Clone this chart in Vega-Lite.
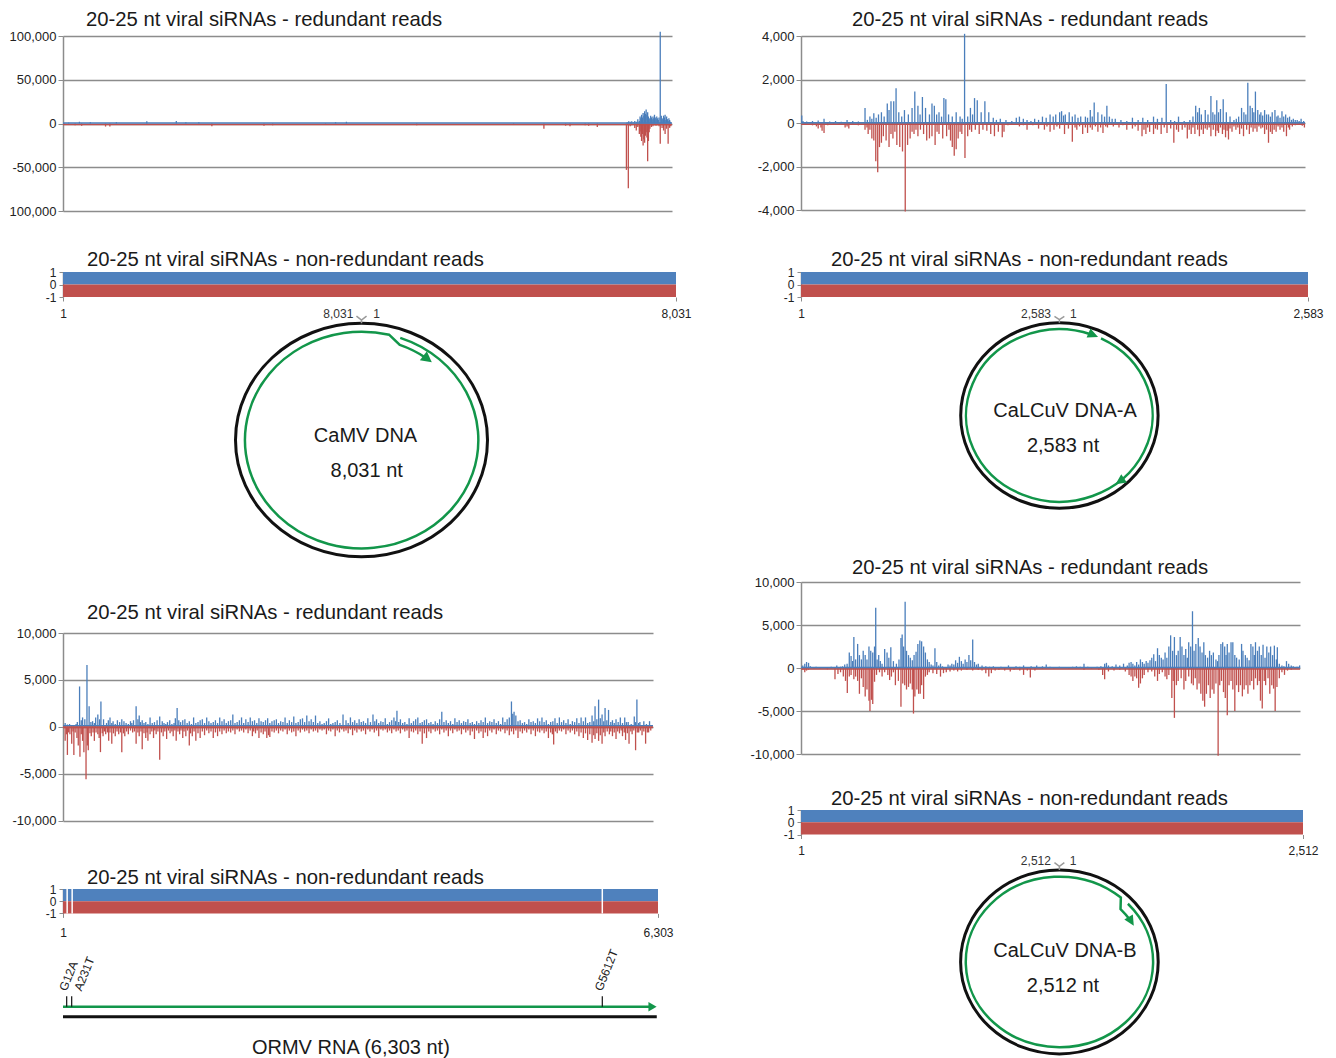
{
"$schema": "https://vega.github.io/schema/vega-lite/v6.json",
"background": "white",
"padding": {"left": 9, "top": 9, "right": 0, "bottom": 0},
"config": {"view": {"stroke": null}, "font": "Liberation Sans",
  "title": {"fontSize": 20.3, "fontWeight": "normal", "anchor": "start", "frame": "group", "color": "#1a1a1a", "baseline": "alphabetic", "font": "Liberation Sans"},
  "axis": {"labelFont": "Liberation Sans", "labelColor": "#222222", "domainColor": "#8c8c8c", "tickColor": "#8c8c8c", "gridColor": "#8c8c8c", "labelOverlap": false}},
"datasets": {
"aP": [{"p":75,"v":1000},{"p":218,"v":2000},{"p":362,"v":1500},{"p":705,"v":1500},{"p":1106,"v":2500},{"p":1495,"v":3000},{"p":1621,"v":1500},{"p":1792,"v":1500},{"p":3595,"v":1500},{"p":3738,"v":2000},{"p":7440,"v":1500},{"p":7460,"v":2500},{"p":7480,"v":2000},{"p":7500,"v":2500},{"p":7520,"v":1500},{"p":7540,"v":3000},{"p":7560,"v":2000},{"p":7580,"v":5000},{"p":7600,"v":3000},{"p":7610,"v":8000},{"p":7620,"v":6000},{"p":7630,"v":10000},{"p":7640,"v":7000},{"p":7650,"v":12000},{"p":7660,"v":9000},{"p":7670,"v":14000},{"p":7680,"v":11000},{"p":7690,"v":16000},{"p":7700,"v":10000},{"p":7710,"v":13000},{"p":7720,"v":8000},{"p":7730,"v":6000},{"p":7740,"v":5000},{"p":7750,"v":9000},{"p":7760,"v":7000},{"p":7770,"v":5000},{"p":7780,"v":8000},{"p":7790,"v":6000},{"p":7800,"v":10000},{"p":7810,"v":7000},{"p":7820,"v":5000},{"p":7830,"v":8000},{"p":7840,"v":6000},{"p":7850,"v":4000},{"p":7860,"v":7000},{"p":7876,"v":105000},{"p":7890,"v":9000},{"p":7900,"v":6000},{"p":7910,"v":5000},{"p":7920,"v":9000},{"p":7930,"v":7000},{"p":7940,"v":10000},{"p":7950,"v":4000},{"p":7960,"v":8000},{"p":7970,"v":5000},{"p":7980,"v":3000},{"p":7990,"v":6000},{"p":8000,"v":4000},{"p":8010,"v":2000}],
"aM": [{"p":18,"v":-1500},{"p":161,"v":-2000},{"p":247,"v":-2500},{"p":562,"v":-3500},{"p":619,"v":-3500},{"p":1964,"v":-3000},{"p":2651,"v":-2500},{"p":2765,"v":-2000},{"p":3463,"v":-1500},{"p":4665,"v":-2000},{"p":5942,"v":-1500},{"p":6342,"v":-6000},{"p":6628,"v":-2500},{"p":6686,"v":-3000},{"p":6886,"v":-2000},{"p":6932,"v":-2500},{"p":7046,"v":-4000},{"p":7430,"v":-53000},{"p":7455,"v":-74000},{"p":7480,"v":-3000},{"p":7500,"v":-2000},{"p":7540,"v":-5000},{"p":7560,"v":-8000},{"p":7580,"v":-4000},{"p":7600,"v":-12000},{"p":7610,"v":-9000},{"p":7620,"v":-15000},{"p":7630,"v":-20000},{"p":7640,"v":-12000},{"p":7650,"v":-25000},{"p":7660,"v":-18000},{"p":7670,"v":-22000},{"p":7680,"v":-14000},{"p":7690,"v":-10000},{"p":7700,"v":-16000},{"p":7710,"v":-43000},{"p":7720,"v":-20000},{"p":7730,"v":-10000},{"p":7740,"v":-6000},{"p":7760,"v":-4000},{"p":7780,"v":-3000},{"p":7800,"v":-2000},{"p":7820,"v":-2500},{"p":7840,"v":-2000},{"p":7860,"v":-3000},{"p":7876,"v":-23000},{"p":7900,"v":-5000},{"p":7920,"v":-8000},{"p":7940,"v":-12000},{"p":7960,"v":-6000},{"p":7980,"v":-23000},{"p":8000,"v":-5000},{"p":8015,"v":-3000}],
"bP": [{"p":5,"v":350},{"p":11,"v":100},{"p":30,"v":80},{"p":60,"v":100},{"p":89,"v":120},{"p":119,"v":200},{"p":148,"v":80},{"p":178,"v":100},{"p":207,"v":60},{"p":237,"v":150},{"p":266,"v":100},{"p":295,"v":80},{"p":329,"v":700},{"p":341,"v":150},{"p":354,"v":300},{"p":364,"v":200},{"p":374,"v":450},{"p":386,"v":250},{"p":398,"v":400},{"p":413,"v":500},{"p":427,"v":300},{"p":443,"v":900},{"p":452,"v":600},{"p":462,"v":1000},{"p":476,"v":1000},{"p":488,"v":1600},{"p":502,"v":500},{"p":517,"v":300},{"p":531,"v":600},{"p":551,"v":400},{"p":570,"v":700},{"p":584,"v":1450},{"p":600,"v":800},{"p":611,"v":400},{"p":623,"v":1200},{"p":639,"v":700},{"p":659,"v":400},{"p":672,"v":900},{"p":684,"v":800},{"p":696,"v":400},{"p":708,"v":500},{"p":721,"v":300},{"p":733,"v":1150},{"p":743,"v":1100},{"p":757,"v":400},{"p":776,"v":300},{"p":796,"v":500},{"p":816,"v":300},{"p":827,"v":200},{"p":839,"v":4100},{"p":855,"v":300},{"p":869,"v":700},{"p":880,"v":400},{"p":890,"v":1150},{"p":904,"v":1050},{"p":924,"v":500},{"p":943,"v":1000},{"p":963,"v":500},{"p":986,"v":250},{"p":1002,"v":150},{"p":1022,"v":200},{"p":1051,"v":150},{"p":1081,"v":100},{"p":1104,"v":250},{"p":1120,"v":300},{"p":1140,"v":200},{"p":1159,"v":150},{"p":1179,"v":100},{"p":1198,"v":200},{"p":1218,"v":150},{"p":1238,"v":300},{"p":1257,"v":250},{"p":1277,"v":400},{"p":1293,"v":300},{"p":1306,"v":400},{"p":1326,"v":500},{"p":1336,"v":550},{"p":1346,"v":350},{"p":1355,"v":400},{"p":1375,"v":500},{"p":1391,"v":300},{"p":1405,"v":400},{"p":1420,"v":250},{"p":1434,"v":300},{"p":1458,"v":300},{"p":1469,"v":250},{"p":1483,"v":600},{"p":1493,"v":300},{"p":1503,"v":950},{"p":1522,"v":500},{"p":1542,"v":400},{"p":1556,"v":300},{"p":1568,"v":800},{"p":1581,"v":300},{"p":1595,"v":200},{"p":1611,"v":200},{"p":1640,"v":150},{"p":1670,"v":100},{"p":1699,"v":250},{"p":1728,"v":150},{"p":1752,"v":250},{"p":1777,"v":150},{"p":1807,"v":300},{"p":1827,"v":200},{"p":1850,"v":250},{"p":1872,"v":1800},{"p":1895,"v":150},{"p":1915,"v":100},{"p":1935,"v":300},{"p":1964,"v":100},{"p":1993,"v":150},{"p":2009,"v":300},{"p":2023,"v":800},{"p":2033,"v":500},{"p":2042,"v":700},{"p":2052,"v":400},{"p":2072,"v":600},{"p":2086,"v":400},{"p":2101,"v":1250},{"p":2111,"v":500},{"p":2121,"v":400},{"p":2131,"v":1050},{"p":2140,"v":500},{"p":2150,"v":650},{"p":2164,"v":1100},{"p":2180,"v":500},{"p":2199,"v":300},{"p":2219,"v":150},{"p":2231,"v":200},{"p":2243,"v":300},{"p":2258,"v":700},{"p":2270,"v":500},{"p":2280,"v":400},{"p":2290,"v":1850},{"p":2302,"v":800},{"p":2313,"v":700},{"p":2321,"v":500},{"p":2329,"v":1450},{"p":2341,"v":600},{"p":2351,"v":400},{"p":2357,"v":500},{"p":2366,"v":350},{"p":2376,"v":600},{"p":2386,"v":400},{"p":2396,"v":400},{"p":2406,"v":300},{"p":2415,"v":500},{"p":2429,"v":600},{"p":2439,"v":300},{"p":2445,"v":350},{"p":2455,"v":250},{"p":2465,"v":550},{"p":2474,"v":300},{"p":2484,"v":400},{"p":2494,"v":250},{"p":2504,"v":300},{"p":2514,"v":150},{"p":2523,"v":200},{"p":2533,"v":150},{"p":2543,"v":150},{"p":2553,"v":100},{"p":2563,"v":200},{"p":2576,"v":100}],
"bM": [{"p":21,"v":-50},{"p":60,"v":-100},{"p":80,"v":-150},{"p":89,"v":-250},{"p":103,"v":-200},{"p":109,"v":-350},{"p":119,"v":-450},{"p":138,"v":-100},{"p":168,"v":-80},{"p":197,"v":-60},{"p":227,"v":-200},{"p":237,"v":-150},{"p":246,"v":-250},{"p":266,"v":-80},{"p":295,"v":-100},{"p":329,"v":-300},{"p":339,"v":-200},{"p":345,"v":-500},{"p":354,"v":-300},{"p":364,"v":-700},{"p":374,"v":-800},{"p":384,"v":-1750},{"p":394,"v":-2250},{"p":403,"v":-1100},{"p":413,"v":-900},{"p":423,"v":-600},{"p":437,"v":-800},{"p":452,"v":-1100},{"p":462,"v":-500},{"p":472,"v":-700},{"p":482,"v":-400},{"p":492,"v":-1000},{"p":507,"v":-1100},{"p":521,"v":-1300},{"p":535,"v":-4050},{"p":547,"v":-1000},{"p":560,"v":-700},{"p":570,"v":-400},{"p":580,"v":-500},{"p":590,"v":-300},{"p":600,"v":-600},{"p":613,"v":-300},{"p":629,"v":-500},{"p":645,"v":-800},{"p":659,"v":-700},{"p":672,"v":-600},{"p":688,"v":-1000},{"p":698,"v":-400},{"p":708,"v":-500},{"p":727,"v":-700},{"p":747,"v":-600},{"p":759,"v":-300},{"p":767,"v":-800},{"p":776,"v":-1100},{"p":786,"v":-1500},{"p":796,"v":-1200},{"p":806,"v":-700},{"p":816,"v":-400},{"p":825,"v":-500},{"p":841,"v":-1600},{"p":855,"v":-600},{"p":865,"v":-300},{"p":875,"v":-400},{"p":894,"v":-300},{"p":914,"v":-500},{"p":933,"v":-300},{"p":953,"v":-350},{"p":973,"v":-500},{"p":992,"v":-600},{"p":1012,"v":-400},{"p":1032,"v":-650},{"p":1041,"v":-400},{"p":1061,"v":-100},{"p":1081,"v":-80},{"p":1120,"v":-150},{"p":1140,"v":-100},{"p":1159,"v":-300},{"p":1189,"v":-100},{"p":1218,"v":-250},{"p":1248,"v":-300},{"p":1261,"v":-150},{"p":1277,"v":-400},{"p":1297,"v":-300},{"p":1312,"v":-150},{"p":1326,"v":-250},{"p":1351,"v":-500},{"p":1371,"v":-250},{"p":1391,"v":-850},{"p":1405,"v":-200},{"p":1414,"v":-300},{"p":1428,"v":-150},{"p":1444,"v":-500},{"p":1458,"v":-200},{"p":1469,"v":-450},{"p":1483,"v":-200},{"p":1493,"v":-300},{"p":1509,"v":-150},{"p":1522,"v":-400},{"p":1536,"v":-200},{"p":1548,"v":-450},{"p":1562,"v":-150},{"p":1571,"v":-200},{"p":1601,"v":-150},{"p":1630,"v":-200},{"p":1650,"v":-100},{"p":1670,"v":-300},{"p":1699,"v":-250},{"p":1713,"v":-150},{"p":1728,"v":-350},{"p":1748,"v":-600},{"p":1758,"v":-300},{"p":1768,"v":-500},{"p":1777,"v":-200},{"p":1787,"v":-400},{"p":1807,"v":-500},{"p":1817,"v":-250},{"p":1827,"v":-300},{"p":1846,"v":-500},{"p":1862,"v":-200},{"p":1876,"v":-450},{"p":1895,"v":-250},{"p":1911,"v":-900},{"p":1925,"v":-300},{"p":1935,"v":-400},{"p":1954,"v":-300},{"p":1968,"v":-200},{"p":1980,"v":-700},{"p":1990,"v":-300},{"p":2000,"v":-500},{"p":2009,"v":-200},{"p":2019,"v":-500},{"p":2033,"v":-300},{"p":2042,"v":-600},{"p":2052,"v":-300},{"p":2062,"v":-500},{"p":2072,"v":-250},{"p":2082,"v":-300},{"p":2092,"v":-200},{"p":2101,"v":-600},{"p":2113,"v":-300},{"p":2125,"v":-600},{"p":2133,"v":-350},{"p":2140,"v":-450},{"p":2150,"v":-200},{"p":2160,"v":-500},{"p":2168,"v":-300},{"p":2176,"v":-650},{"p":2184,"v":-350},{"p":2191,"v":-750},{"p":2199,"v":-250},{"p":2209,"v":-400},{"p":2219,"v":-150},{"p":2229,"v":-300},{"p":2239,"v":-200},{"p":2248,"v":-500},{"p":2258,"v":-250},{"p":2268,"v":-600},{"p":2284,"v":-300},{"p":2298,"v":-500},{"p":2307,"v":-200},{"p":2317,"v":-400},{"p":2327,"v":-250},{"p":2337,"v":-400},{"p":2347,"v":-150},{"p":2357,"v":-250},{"p":2366,"v":-200},{"p":2376,"v":-500},{"p":2386,"v":-300},{"p":2396,"v":-900},{"p":2406,"v":-400},{"p":2415,"v":-500},{"p":2425,"v":-300},{"p":2435,"v":-400},{"p":2445,"v":-150},{"p":2455,"v":-300},{"p":2465,"v":-200},{"p":2474,"v":-400},{"p":2488,"v":-600},{"p":2498,"v":-200},{"p":2504,"v":-300},{"p":2518,"v":-150},{"p":2533,"v":-100},{"p":2553,"v":-80},{"p":2569,"v":-120},{"p":2580,"v":-200}],
"cP": [{"p":24,"v":400},{"p":48,"v":250},{"p":71,"v":300},{"p":94,"v":200},{"p":117,"v":200},{"p":141,"v":300},{"p":154,"v":500},{"p":178,"v":4300},{"p":196,"v":700},{"p":210,"v":1000},{"p":234,"v":800},{"p":257,"v":6600},{"p":280,"v":2200},{"p":299,"v":500},{"p":317,"v":600},{"p":336,"v":400},{"p":350,"v":1000},{"p":373,"v":1300},{"p":392,"v":800},{"p":406,"v":2700},{"p":434,"v":800},{"p":466,"v":400},{"p":485,"v":700},{"p":503,"v":1000},{"p":522,"v":400},{"p":536,"v":600},{"p":559,"v":300},{"p":582,"v":700},{"p":606,"v":500},{"p":629,"v":800},{"p":652,"v":600},{"p":675,"v":400},{"p":699,"v":300},{"p":722,"v":600},{"p":736,"v":400},{"p":754,"v":700},{"p":782,"v":2200},{"p":801,"v":800},{"p":815,"v":1200},{"p":829,"v":500},{"p":847,"v":700},{"p":866,"v":400},{"p":885,"v":500},{"p":908,"v":300},{"p":931,"v":1000},{"p":954,"v":400},{"p":978,"v":500},{"p":1006,"v":700},{"p":1034,"v":1100},{"p":1061,"v":600},{"p":1080,"v":400},{"p":1099,"v":300},{"p":1117,"v":500},{"p":1141,"v":700},{"p":1164,"v":300},{"p":1187,"v":400},{"p":1201,"v":900},{"p":1220,"v":2000},{"p":1238,"v":700},{"p":1257,"v":500},{"p":1280,"v":700},{"p":1303,"v":800},{"p":1327,"v":400},{"p":1350,"v":600},{"p":1373,"v":300},{"p":1396,"v":1000},{"p":1420,"v":400},{"p":1443,"v":500},{"p":1466,"v":700},{"p":1489,"v":800},{"p":1513,"v":400},{"p":1536,"v":1000},{"p":1559,"v":600},{"p":1582,"v":400},{"p":1606,"v":500},{"p":1629,"v":700},{"p":1652,"v":400},{"p":1675,"v":1000},{"p":1699,"v":600},{"p":1722,"v":800},{"p":1745,"v":400},{"p":1768,"v":600},{"p":1792,"v":700},{"p":1815,"v":1300},{"p":1838,"v":400},{"p":1861,"v":500},{"p":1885,"v":700},{"p":1908,"v":1000},{"p":1931,"v":400},{"p":1954,"v":800},{"p":1978,"v":500},{"p":2001,"v":1000},{"p":2024,"v":600},{"p":2047,"v":700},{"p":2071,"v":400},{"p":2094,"v":900},{"p":2117,"v":600},{"p":2140,"v":500},{"p":2164,"v":700},{"p":2187,"v":900},{"p":2210,"v":400},{"p":2233,"v":600},{"p":2257,"v":700},{"p":2280,"v":800},{"p":2303,"v":400},{"p":2326,"v":600},{"p":2350,"v":500},{"p":2373,"v":1000},{"p":2396,"v":400},{"p":2419,"v":700},{"p":2443,"v":500},{"p":2466,"v":1100},{"p":2489,"v":400},{"p":2513,"v":500},{"p":2536,"v":800},{"p":2559,"v":900},{"p":2582,"v":500},{"p":2605,"v":1200},{"p":2629,"v":600},{"p":2652,"v":800},{"p":2675,"v":500},{"p":2698,"v":1200},{"p":2722,"v":400},{"p":2745,"v":600},{"p":2768,"v":300},{"p":2791,"v":400},{"p":2815,"v":600},{"p":2838,"v":900},{"p":2861,"v":300},{"p":2884,"v":400},{"p":2908,"v":500},{"p":2931,"v":700},{"p":2959,"v":400},{"p":2992,"v":1300},{"p":3024,"v":700},{"p":3047,"v":400},{"p":3071,"v":1000},{"p":3094,"v":500},{"p":3117,"v":700},{"p":3140,"v":400},{"p":3164,"v":800},{"p":3187,"v":500},{"p":3210,"v":600},{"p":3233,"v":400},{"p":3257,"v":900},{"p":3285,"v":500},{"p":3312,"v":1300},{"p":3331,"v":600},{"p":3350,"v":800},{"p":3373,"v":400},{"p":3396,"v":600},{"p":3419,"v":500},{"p":3443,"v":900},{"p":3466,"v":300},{"p":3489,"v":500},{"p":3512,"v":700},{"p":3536,"v":1000},{"p":3554,"v":600},{"p":3568,"v":1700},{"p":3587,"v":500},{"p":3605,"v":800},{"p":3629,"v":400},{"p":3652,"v":500},{"p":3675,"v":300},{"p":3698,"v":900},{"p":3722,"v":400},{"p":3745,"v":600},{"p":3768,"v":800},{"p":3791,"v":1000},{"p":3815,"v":400},{"p":3838,"v":500},{"p":3861,"v":700},{"p":3884,"v":800},{"p":3908,"v":400},{"p":3931,"v":500},{"p":3954,"v":300},{"p":3977,"v":600},{"p":4001,"v":400},{"p":4024,"v":800},{"p":4047,"v":1600},{"p":4070,"v":500},{"p":4094,"v":700},{"p":4117,"v":400},{"p":4140,"v":600},{"p":4164,"v":300},{"p":4187,"v":900},{"p":4210,"v":500},{"p":4233,"v":700},{"p":4257,"v":400},{"p":4280,"v":600},{"p":4303,"v":500},{"p":4326,"v":800},{"p":4350,"v":400},{"p":4373,"v":500},{"p":4396,"v":300},{"p":4419,"v":600},{"p":4443,"v":400},{"p":4466,"v":700},{"p":4489,"v":500},{"p":4512,"v":1000},{"p":4536,"v":400},{"p":4559,"v":600},{"p":4582,"v":500},{"p":4605,"v":800},{"p":4629,"v":400},{"p":4652,"v":600},{"p":4675,"v":300},{"p":4698,"v":1000},{"p":4722,"v":500},{"p":4745,"v":800},{"p":4768,"v":1000},{"p":4791,"v":2700},{"p":4805,"v":1400},{"p":4819,"v":1600},{"p":4838,"v":1200},{"p":4861,"v":600},{"p":4884,"v":700},{"p":4908,"v":400},{"p":4931,"v":500},{"p":4954,"v":300},{"p":4977,"v":800},{"p":5000,"v":500},{"p":5024,"v":600},{"p":5047,"v":400},{"p":5070,"v":900},{"p":5093,"v":600},{"p":5117,"v":1000},{"p":5140,"v":500},{"p":5163,"v":700},{"p":5186,"v":300},{"p":5210,"v":500},{"p":5233,"v":600},{"p":5256,"v":900},{"p":5280,"v":400},{"p":5303,"v":1000},{"p":5326,"v":500},{"p":5349,"v":700},{"p":5373,"v":400},{"p":5396,"v":800},{"p":5419,"v":300},{"p":5442,"v":600},{"p":5466,"v":500},{"p":5489,"v":900},{"p":5512,"v":400},{"p":5535,"v":1000},{"p":5559,"v":600},{"p":5582,"v":1000},{"p":5605,"v":400},{"p":5628,"v":500},{"p":5652,"v":1200},{"p":5670,"v":600},{"p":5684,"v":2200},{"p":5703,"v":800},{"p":5722,"v":2900},{"p":5740,"v":900},{"p":5759,"v":1300},{"p":5777,"v":600},{"p":5791,"v":2000},{"p":5810,"v":700},{"p":5828,"v":1800},{"p":5852,"v":500},{"p":5870,"v":700},{"p":5889,"v":400},{"p":5908,"v":800},{"p":5931,"v":500},{"p":5954,"v":1000},{"p":5977,"v":400},{"p":6001,"v":1000},{"p":6019,"v":500},{"p":6038,"v":500},{"p":6057,"v":200},{"p":6070,"v":300},{"p":6084,"v":200},{"p":6103,"v":1100},{"p":6117,"v":500},{"p":6131,"v":2900},{"p":6150,"v":400},{"p":6163,"v":500},{"p":6186,"v":200},{"p":6205,"v":600},{"p":6233,"v":300},{"p":6251,"v":200},{"p":6266,"v":600},{"p":6289,"v":200}],
"cM": [{"p":24,"v":-1500},{"p":38,"v":-800},{"p":48,"v":-3000},{"p":61,"v":-600},{"p":75,"v":-800},{"p":94,"v":-1800},{"p":108,"v":-500},{"p":117,"v":-3000},{"p":131,"v":-600},{"p":150,"v":-1200},{"p":164,"v":-2000},{"p":182,"v":-3200},{"p":196,"v":-800},{"p":210,"v":-1500},{"p":224,"v":-2700},{"p":247,"v":-5600},{"p":261,"v":-2000},{"p":271,"v":-2500},{"p":289,"v":-700},{"p":303,"v":-1000},{"p":322,"v":-600},{"p":336,"v":-1500},{"p":354,"v":-600},{"p":373,"v":-800},{"p":387,"v":-1200},{"p":401,"v":-2700},{"p":420,"v":-700},{"p":429,"v":-1000},{"p":443,"v":-500},{"p":457,"v":-800},{"p":475,"v":-600},{"p":489,"v":-1500},{"p":503,"v":-600},{"p":522,"v":-1800},{"p":540,"v":-700},{"p":559,"v":-1000},{"p":578,"v":-500},{"p":596,"v":-800},{"p":615,"v":-600},{"p":629,"v":-2700},{"p":647,"v":-700},{"p":661,"v":-1000},{"p":680,"v":-500},{"p":699,"v":-800},{"p":722,"v":-400},{"p":745,"v":-600},{"p":764,"v":-500},{"p":782,"v":-1800},{"p":801,"v":-600},{"p":815,"v":-1000},{"p":834,"v":-500},{"p":847,"v":-2400},{"p":866,"v":-700},{"p":885,"v":-1200},{"p":899,"v":-600},{"p":908,"v":-1500},{"p":931,"v":-800},{"p":950,"v":-500},{"p":968,"v":-1200},{"p":982,"v":-400},{"p":996,"v":-800},{"p":1015,"v":-500},{"p":1034,"v":-3500},{"p":1052,"v":-600},{"p":1071,"v":-1000},{"p":1089,"v":-500},{"p":1108,"v":-1300},{"p":1127,"v":-400},{"p":1145,"v":-700},{"p":1164,"v":-500},{"p":1178,"v":-1000},{"p":1196,"v":-400},{"p":1210,"v":-1500},{"p":1229,"v":-500},{"p":1247,"v":-800},{"p":1261,"v":-400},{"p":1280,"v":-1200},{"p":1294,"v":-500},{"p":1313,"v":-1000},{"p":1331,"v":-400},{"p":1350,"v":-2000},{"p":1364,"v":-700},{"p":1382,"v":-1000},{"p":1401,"v":-500},{"p":1420,"v":-1500},{"p":1443,"v":-700},{"p":1466,"v":-1200},{"p":1489,"v":-500},{"p":1513,"v":-900},{"p":1536,"v":-400},{"p":1559,"v":-700},{"p":1582,"v":-500},{"p":1606,"v":-1200},{"p":1629,"v":-600},{"p":1652,"v":-1000},{"p":1675,"v":-500},{"p":1699,"v":-800},{"p":1722,"v":-400},{"p":1745,"v":-700},{"p":1768,"v":-500},{"p":1792,"v":-600},{"p":1815,"v":-400},{"p":1838,"v":-800},{"p":1861,"v":-300},{"p":1885,"v":-500},{"p":1908,"v":-400},{"p":1931,"v":-600},{"p":1954,"v":-300},{"p":1978,"v":-700},{"p":2001,"v":-400},{"p":2024,"v":-1000},{"p":2038,"v":-500},{"p":2057,"v":-700},{"p":2075,"v":-400},{"p":2094,"v":-1200},{"p":2117,"v":-600},{"p":2140,"v":-800},{"p":2159,"v":-500},{"p":2178,"v":-1200},{"p":2196,"v":-900},{"p":2210,"v":-1100},{"p":2233,"v":-500},{"p":2257,"v":-600},{"p":2280,"v":-400},{"p":2303,"v":-700},{"p":2326,"v":-400},{"p":2350,"v":-500},{"p":2373,"v":-300},{"p":2396,"v":-800},{"p":2419,"v":-400},{"p":2443,"v":-600},{"p":2466,"v":-500},{"p":2489,"v":-1000},{"p":2513,"v":-400},{"p":2536,"v":-600},{"p":2559,"v":-300},{"p":2582,"v":-500},{"p":2605,"v":-400},{"p":2629,"v":-700},{"p":2652,"v":-300},{"p":2675,"v":-500},{"p":2698,"v":-400},{"p":2722,"v":-600},{"p":2745,"v":-300},{"p":2768,"v":-400},{"p":2791,"v":-300},{"p":2815,"v":-800},{"p":2838,"v":-400},{"p":2861,"v":-500},{"p":2884,"v":-300},{"p":2908,"v":-1000},{"p":2931,"v":-400},{"p":2954,"v":-600},{"p":2978,"v":-300},{"p":3001,"v":-500},{"p":3024,"v":-400},{"p":3047,"v":-700},{"p":3071,"v":-300},{"p":3094,"v":-900},{"p":3117,"v":-400},{"p":3140,"v":-600},{"p":3164,"v":-300},{"p":3187,"v":-500},{"p":3210,"v":-400},{"p":3233,"v":-800},{"p":3257,"v":-300},{"p":3280,"v":-500},{"p":3303,"v":-300},{"p":3326,"v":-600},{"p":3350,"v":-400},{"p":3373,"v":-1000},{"p":3396,"v":-300},{"p":3419,"v":-400},{"p":3443,"v":-300},{"p":3466,"v":-600},{"p":3489,"v":-400},{"p":3512,"v":-700},{"p":3536,"v":-300},{"p":3559,"v":-500},{"p":3582,"v":-400},{"p":3605,"v":-700},{"p":3629,"v":-300},{"p":3652,"v":-500},{"p":3675,"v":-400},{"p":3698,"v":-1200},{"p":3722,"v":-500},{"p":3745,"v":-600},{"p":3768,"v":-400},{"p":3791,"v":-800},{"p":3815,"v":-500},{"p":3838,"v":-1800},{"p":3861,"v":-700},{"p":3884,"v":-1200},{"p":3908,"v":-500},{"p":3931,"v":-700},{"p":3954,"v":-300},{"p":3977,"v":-500},{"p":4001,"v":-400},{"p":4024,"v":-800},{"p":4047,"v":-300},{"p":4070,"v":-600},{"p":4094,"v":-400},{"p":4117,"v":-1000},{"p":4140,"v":-400},{"p":4164,"v":-700},{"p":4187,"v":-300},{"p":4210,"v":-500},{"p":4233,"v":-400},{"p":4257,"v":-800},{"p":4280,"v":-300},{"p":4303,"v":-600},{"p":4326,"v":-400},{"p":4350,"v":-900},{"p":4373,"v":-500},{"p":4396,"v":-1300},{"p":4419,"v":-400},{"p":4443,"v":-700},{"p":4466,"v":-500},{"p":4489,"v":-1200},{"p":4512,"v":-600},{"p":4536,"v":-1000},{"p":4559,"v":-400},{"p":4582,"v":-600},{"p":4605,"v":-300},{"p":4629,"v":-800},{"p":4652,"v":-400},{"p":4675,"v":-500},{"p":4698,"v":-300},{"p":4722,"v":-700},{"p":4745,"v":-400},{"p":4768,"v":-900},{"p":4791,"v":-500},{"p":4814,"v":-800},{"p":4838,"v":-400},{"p":4861,"v":-1200},{"p":4884,"v":-500},{"p":4908,"v":-700},{"p":4931,"v":-400},{"p":4954,"v":-600},{"p":4977,"v":-300},{"p":5000,"v":-800},{"p":5024,"v":-400},{"p":5047,"v":-1000},{"p":5070,"v":-500},{"p":5093,"v":-600},{"p":5117,"v":-400},{"p":5140,"v":-700},{"p":5163,"v":-500},{"p":5186,"v":-1200},{"p":5210,"v":-600},{"p":5228,"v":-800},{"p":5242,"v":-1900},{"p":5261,"v":-500},{"p":5280,"v":-700},{"p":5303,"v":-400},{"p":5326,"v":-500},{"p":5349,"v":-300},{"p":5373,"v":-800},{"p":5396,"v":-400},{"p":5419,"v":-600},{"p":5442,"v":-400},{"p":5466,"v":-800},{"p":5489,"v":-500},{"p":5512,"v":-1000},{"p":5535,"v":-600},{"p":5559,"v":-1200},{"p":5582,"v":-700},{"p":5605,"v":-1400},{"p":5628,"v":-800},{"p":5652,"v":-1700},{"p":5670,"v":-900},{"p":5684,"v":-1300},{"p":5703,"v":-700},{"p":5722,"v":-1500},{"p":5740,"v":-900},{"p":5759,"v":-1800},{"p":5777,"v":-600},{"p":5791,"v":-1000},{"p":5814,"v":-500},{"p":5837,"v":-800},{"p":5852,"v":-500},{"p":5870,"v":-1000},{"p":5889,"v":-600},{"p":5908,"v":-1300},{"p":5926,"v":-500},{"p":5945,"v":-700},{"p":5963,"v":-400},{"p":5977,"v":-1000},{"p":5996,"v":-600},{"p":6010,"v":-1400},{"p":6029,"v":-700},{"p":6047,"v":-1800},{"p":6066,"v":-500},{"p":6080,"v":-800},{"p":6098,"v":-400},{"p":6117,"v":-2500},{"p":6135,"v":-600},{"p":6150,"v":-600},{"p":6168,"v":-400},{"p":6186,"v":-900},{"p":6205,"v":-500},{"p":6224,"v":-1800},{"p":6242,"v":-600},{"p":6256,"v":-600},{"p":6279,"v":-400}],
"dP": [{"p":10,"v":300},{"p":20,"v":500},{"p":29,"v":700},{"p":39,"v":600},{"p":48,"v":200},{"p":58,"v":100},{"p":77,"v":150},{"p":96,"v":100},{"p":124,"v":100},{"p":153,"v":150},{"p":181,"v":300},{"p":200,"v":150},{"p":210,"v":200},{"p":221,"v":400},{"p":233,"v":500},{"p":244,"v":1800},{"p":253,"v":1400},{"p":261,"v":800},{"p":267,"v":3600},{"p":276,"v":1000},{"p":286,"v":2800},{"p":295,"v":1500},{"p":305,"v":1000},{"p":314,"v":2000},{"p":324,"v":1500},{"p":333,"v":1000},{"p":343,"v":2500},{"p":352,"v":2000},{"p":362,"v":1800},{"p":371,"v":2500},{"p":377,"v":7000},{"p":384,"v":1000},{"p":392,"v":1500},{"p":400,"v":800},{"p":409,"v":500},{"p":422,"v":2200},{"p":434,"v":1800},{"p":443,"v":1200},{"p":453,"v":2400},{"p":466,"v":800},{"p":481,"v":500},{"p":494,"v":1000},{"p":504,"v":3500},{"p":510,"v":3900},{"p":517,"v":2500},{"p":525,"v":7700},{"p":532,"v":2000},{"p":542,"v":1500},{"p":551,"v":1200},{"p":561,"v":900},{"p":570,"v":1500},{"p":580,"v":1900},{"p":589,"v":2800},{"p":599,"v":3200},{"p":608,"v":3100},{"p":618,"v":2500},{"p":627,"v":1800},{"p":637,"v":1000},{"p":646,"v":700},{"p":656,"v":400},{"p":665,"v":300},{"p":675,"v":2300},{"p":684,"v":700},{"p":694,"v":300},{"p":703,"v":500},{"p":713,"v":200},{"p":722,"v":100},{"p":741,"v":400},{"p":751,"v":300},{"p":760,"v":500},{"p":770,"v":400},{"p":779,"v":900},{"p":789,"v":600},{"p":798,"v":1300},{"p":808,"v":800},{"p":817,"v":500},{"p":827,"v":1000},{"p":836,"v":700},{"p":846,"v":1500},{"p":855,"v":900},{"p":865,"v":3300},{"p":874,"v":700},{"p":884,"v":400},{"p":893,"v":500},{"p":912,"v":300},{"p":931,"v":200},{"p":950,"v":150},{"p":969,"v":200},{"p":988,"v":100},{"p":1007,"v":150},{"p":1026,"v":100},{"p":1045,"v":300},{"p":1064,"v":100},{"p":1083,"v":200},{"p":1102,"v":150},{"p":1121,"v":300},{"p":1159,"v":200},{"p":1187,"v":300},{"p":1216,"v":200},{"p":1235,"v":400},{"p":1254,"v":150},{"p":1273,"v":100},{"p":1301,"v":150},{"p":1330,"v":100},{"p":1368,"v":150},{"p":1387,"v":200},{"p":1406,"v":150},{"p":1425,"v":500},{"p":1444,"v":150},{"p":1463,"v":100},{"p":1491,"v":150},{"p":1510,"v":200},{"p":1529,"v":500},{"p":1538,"v":600},{"p":1548,"v":300},{"p":1567,"v":200},{"p":1586,"v":400},{"p":1605,"v":300},{"p":1624,"v":500},{"p":1643,"v":300},{"p":1652,"v":600},{"p":1662,"v":700},{"p":1671,"v":500},{"p":1681,"v":300},{"p":1690,"v":700},{"p":1700,"v":400},{"p":1709,"v":1000},{"p":1719,"v":700},{"p":1728,"v":500},{"p":1738,"v":800},{"p":1747,"v":600},{"p":1757,"v":900},{"p":1766,"v":1200},{"p":1776,"v":1600},{"p":1785,"v":800},{"p":1795,"v":2300},{"p":1804,"v":1500},{"p":1814,"v":1200},{"p":1823,"v":1000},{"p":1833,"v":1800},{"p":1842,"v":1200},{"p":1852,"v":2500},{"p":1861,"v":3800},{"p":1871,"v":2000},{"p":1880,"v":3600},{"p":1890,"v":1500},{"p":1899,"v":2000},{"p":1909,"v":3600},{"p":1918,"v":2500},{"p":1928,"v":1500},{"p":1937,"v":2200},{"p":1945,"v":1200},{"p":1952,"v":3000},{"p":1962,"v":2500},{"p":1971,"v":6600},{"p":1979,"v":2000},{"p":1988,"v":2800},{"p":2000,"v":3500},{"p":2009,"v":2500},{"p":2019,"v":1800},{"p":2028,"v":3000},{"p":2036,"v":1500},{"p":2047,"v":1200},{"p":2057,"v":2000},{"p":2066,"v":1500},{"p":2076,"v":1800},{"p":2089,"v":1000},{"p":2097,"v":800},{"p":2104,"v":1500},{"p":2114,"v":2800},{"p":2123,"v":3000},{"p":2133,"v":2500},{"p":2140,"v":1500},{"p":2146,"v":2800},{"p":2155,"v":1800},{"p":2165,"v":3000},{"p":2174,"v":3000},{"p":2184,"v":1500},{"p":2193,"v":1200},{"p":2206,"v":1000},{"p":2218,"v":2800},{"p":2225,"v":2000},{"p":2237,"v":1500},{"p":2246,"v":1200},{"p":2256,"v":900},{"p":2265,"v":2800},{"p":2275,"v":2500},{"p":2282,"v":1500},{"p":2288,"v":3000},{"p":2298,"v":2000},{"p":2307,"v":2500},{"p":2317,"v":1500},{"p":2326,"v":2700},{"p":2336,"v":1200},{"p":2345,"v":2500},{"p":2355,"v":1800},{"p":2364,"v":2500},{"p":2374,"v":1500},{"p":2383,"v":2600},{"p":2393,"v":1000},{"p":2398,"v":2400},{"p":2408,"v":500},{"p":2421,"v":300},{"p":2431,"v":200},{"p":2444,"v":800},{"p":2455,"v":500},{"p":2468,"v":300},{"p":2478,"v":200},{"p":2497,"v":150},{"p":2510,"v":300}],
"dM": [{"p":10,"v":-200},{"p":20,"v":-500},{"p":29,"v":-300},{"p":39,"v":-200},{"p":67,"v":-100},{"p":96,"v":-100},{"p":134,"v":-150},{"p":172,"v":-1300},{"p":187,"v":-700},{"p":200,"v":-500},{"p":214,"v":-1000},{"p":225,"v":-1500},{"p":234,"v":-2900},{"p":244,"v":-1000},{"p":253,"v":-800},{"p":267,"v":-1300},{"p":276,"v":-1000},{"p":286,"v":-1500},{"p":295,"v":-3000},{"p":305,"v":-1200},{"p":314,"v":-2200},{"p":324,"v":-3300},{"p":333,"v":-2500},{"p":343,"v":-3800},{"p":348,"v":-5000},{"p":356,"v":-3700},{"p":362,"v":-4200},{"p":371,"v":-1600},{"p":381,"v":-800},{"p":396,"v":-500},{"p":409,"v":-1000},{"p":422,"v":-500},{"p":438,"v":-800},{"p":447,"v":-1400},{"p":456,"v":-1000},{"p":466,"v":-500},{"p":476,"v":-2000},{"p":491,"v":-1500},{"p":504,"v":-4500},{"p":513,"v":-1800},{"p":523,"v":-2000},{"p":532,"v":-2500},{"p":542,"v":-2200},{"p":551,"v":-1800},{"p":561,"v":-2500},{"p":567,"v":-5300},{"p":574,"v":-3300},{"p":584,"v":-2500},{"p":593,"v":-3000},{"p":601,"v":-3000},{"p":608,"v":-2000},{"p":618,"v":-3600},{"p":627,"v":-1000},{"p":637,"v":-800},{"p":646,"v":-500},{"p":665,"v":-600},{"p":684,"v":-700},{"p":703,"v":-1000},{"p":718,"v":-600},{"p":732,"v":-500},{"p":751,"v":-400},{"p":770,"v":-300},{"p":789,"v":-400},{"p":808,"v":-300},{"p":836,"v":-200},{"p":865,"v":-300},{"p":893,"v":-200},{"p":912,"v":-300},{"p":931,"v":-600},{"p":946,"v":-1000},{"p":959,"v":-600},{"p":978,"v":-300},{"p":997,"v":-200},{"p":1026,"v":-300},{"p":1054,"v":-400},{"p":1073,"v":-200},{"p":1102,"v":-300},{"p":1121,"v":-800},{"p":1140,"v":-300},{"p":1155,"v":-1100},{"p":1178,"v":-300},{"p":1216,"v":-100},{"p":1273,"v":-100},{"p":1349,"v":-100},{"p":1425,"v":-200},{"p":1463,"v":-100},{"p":1500,"v":-200},{"p":1519,"v":-800},{"p":1529,"v":-1300},{"p":1548,"v":-400},{"p":1576,"v":-300},{"p":1605,"v":-200},{"p":1633,"v":-400},{"p":1652,"v":-800},{"p":1662,"v":-1000},{"p":1671,"v":-1500},{"p":1681,"v":-1000},{"p":1690,"v":-1200},{"p":1700,"v":-2300},{"p":1709,"v":-1800},{"p":1719,"v":-1200},{"p":1728,"v":-800},{"p":1747,"v":-500},{"p":1766,"v":-400},{"p":1781,"v":-1000},{"p":1795,"v":-1500},{"p":1804,"v":-700},{"p":1819,"v":-500},{"p":1833,"v":-1000},{"p":1842,"v":-1300},{"p":1852,"v":-800},{"p":1867,"v":-3500},{"p":1874,"v":-1500},{"p":1880,"v":-5800},{"p":1890,"v":-2000},{"p":1899,"v":-1500},{"p":1914,"v":-1200},{"p":1928,"v":-2500},{"p":1937,"v":-1500},{"p":1952,"v":-1000},{"p":1966,"v":-1800},{"p":1975,"v":-2000},{"p":1985,"v":-1200},{"p":1994,"v":-2500},{"p":2004,"v":-1800},{"p":2013,"v":-3000},{"p":2023,"v":-3800},{"p":2032,"v":-4500},{"p":2041,"v":-3000},{"p":2051,"v":-2000},{"p":2060,"v":-3500},{"p":2070,"v":-2500},{"p":2079,"v":-3000},{"p":2089,"v":-1800},{"p":2100,"v":-10200},{"p":2108,"v":-2000},{"p":2117,"v":-1500},{"p":2127,"v":-2800},{"p":2136,"v":-3500},{"p":2146,"v":-5500},{"p":2155,"v":-2000},{"p":2165,"v":-1500},{"p":2174,"v":-2500},{"p":2184,"v":-5000},{"p":2193,"v":-2000},{"p":2203,"v":-2800},{"p":2212,"v":-2000},{"p":2222,"v":-3300},{"p":2231,"v":-2500},{"p":2241,"v":-2000},{"p":2250,"v":-3000},{"p":2260,"v":-2000},{"p":2269,"v":-1500},{"p":2279,"v":-2500},{"p":2288,"v":-1200},{"p":2298,"v":-2000},{"p":2307,"v":-1500},{"p":2313,"v":-3800},{"p":2322,"v":-4700},{"p":2332,"v":-1500},{"p":2339,"v":-2000},{"p":2351,"v":-1200},{"p":2360,"v":-3000},{"p":2370,"v":-2000},{"p":2379,"v":-2400},{"p":2387,"v":-5000},{"p":2396,"v":-2200},{"p":2408,"v":-1200},{"p":2421,"v":-500},{"p":2434,"v":-800},{"p":2449,"v":-300},{"p":2468,"v":-200},{"p":2487,"v":-100}]
},
"spacing": 738,
"bounds": "flush",
"hconcat": [
{"spacing": 0, "bounds": "flush", "vconcat": [
 {"width": 609, "height": 175,
  "title": {"text": "20-25 nt viral siRNAs - redundant reads", "dx": 23, "offset": 0},
  "layer": [
   {"data": {"name": "aM"}, "mark": {"type": "rule", "color": "#c0504d", "strokeWidth": 1.3},
    "encoding": {"x": {"field": "p", "type": "quantitative", "scale": {"domain": [1, 8031], "nice": false, "zero": false}, "axis": null},
     "y": {"field": "v", "type": "quantitative", "scale": {"domain": [-100000, 100000], "nice": false},
      "axis": {"values": [-100000, -50000, 0, 50000, 100000], "grid": true, "gridWidth": 1.5, "domainWidth": 1.5, "tickSize": 5, "labelFontSize": 13, "labelPadding": 2, "title": null,
       "labelExpr": "datum.value == -100000 ? '100,000' : (datum.value < 0 ? '-' : '') + format(abs(datum.value), ',')"}},
     "y2": {"datum": 0}}},
   {"data": {"name": "aP"}, "mark": {"type": "rule", "color": "#4a7ebb", "strokeWidth": 1.3},
    "encoding": {"x": {"field": "p", "type": "quantitative"}, "y": {"field": "v", "type": "quantitative"}, "y2": {"datum": 0}}},
   {"data": {"values": [{"p": 1, "p2": 8031}]}, "mark": {"type": "rule", "color": "#c0504d", "strokeWidth": 1.5, "yOffset": 1},
    "encoding": {"x": {"field": "p", "type": "quantitative"}, "x2": {"field": "p2"}, "y": {"datum": 0, "type": "quantitative"}}},
   {"data": {"values": [{"p": 1, "p2": 8031}]}, "mark": {"type": "rule", "color": "#4a7ebb", "strokeWidth": 1.5, "yOffset": -0.5},
    "encoding": {"x": {"field": "p", "type": "quantitative"}, "x2": {"field": "p2"}, "y": {"datum": 0, "type": "quantitative"}}}
  ]},
 {"width": 1, "height": 60.3, "data": {"values": []}, "mark": "point"},
 {"width": 613, "height": 25,
  "title": {"text": "20-25 nt viral siRNAs - non-redundant reads", "dx": 24, "offset": -4},
  "data": {"values": [{"s": 1, "e": 8031, "lo": 0, "hi": 1, "strand": "+"}, {"s": 1, "e": 8031, "lo": -1, "hi": 0, "strand": "-"}]},
  "mark": {"type": "rect"},
  "encoding": {
   "x": {"field": "s", "type": "quantitative", "scale": {"domain": [1, 8031], "nice": false, "zero": false},
    "axis": {"values": [1, 8031], "labelExpr": "format(datum.value, ',')", "labelFlush": false, "domain": false, "grid": false, "tickSize": 4, "labelPadding": 7, "labelFontSize": 12, "title": null}},
   "x2": {"field": "e"},
   "y": {"field": "lo", "type": "quantitative", "scale": {"domain": [-1, 1], "nice": false},
    "axis": {"values": [-1, 0, 1], "grid": false, "tickSize": 4, "labelPadding": 3, "labelFontSize": 12, "labelOverlap": false, "domainWidth": 1.5, "title": null, "labelExpr": "(datum.value < 0 ? '-' : '') + format(abs(datum.value), ',')"}},
   "y2": {"field": "hi"},
   "color": {"field": "strand", "type": "nominal", "scale": {"domain": ["+", "-"], "range": ["#4f81bd", "#c0504d"]}, "legend": null}}},
 {"width": 597, "height": 335.7,
  "encoding": {"x": {"field": "x", "type": "quantitative", "scale": {"domain": [-2.369, 2.369], "nice": false, "zero": false}, "axis": null},
   "y": {"field": "y", "type": "quantitative", "scale": {"domain": [-1.529, 1.135], "nice": false, "zero": false}, "axis": null}},
  "layer": [
   {"data": {"values": [{"x": 0, "y": 0}]}, "mark": {"type": "point", "shape": "M -1 0 A 1 0.926 0 1 1 1 0 A 1 0.926 0 1 1 -1 0 Z", "size": 63504, "filled": false, "stroke": "#111111", "strokeWidth": 3, "opacity": 1}},
   {"data": {"values": [{"x": 0, "y": 0}]}, "mark": {"type": "point", "shape": "M 0.3076 -0.8112 A 0.926 0.86 0 1 1 0.2209 -0.8351 L 0.3040 -0.7550 A 0.868 0.806 0 0 1 0.5102 -0.6521", "size": 63504, "filled": false, "stroke": "#12964a", "strokeWidth": 2.5, "opacity": 1}},
   {"data": {"values": [{"x": 0, "y": 0}]}, "mark": {"type": "point", "shape": "M 0.5579 -0.6174 L 0.4632 -0.6341 L 0.5186 -0.7051 Z", "size": 63504, "filled": true, "color": "#12964a", "opacity": 1}},
   {"data": {"values": [{"x": 0, "y": 0}]}, "mark": {"type": "point", "shape": "M -0.04 -0.984 L 0 -0.952 L 0.04 -0.984 M 0 -0.952 L 0 -0.926", "size": 63504, "filled": false, "stroke": "#9a9a9a", "strokeWidth": 1.5, "opacity": 1}},
   {"data": {"values": [{"x": 0.032, "y": 0.032, "t": "CaMV DNA"}, {"x": 0.041, "y": -0.246, "t": "8,031 nt"}]}, "mark": {"type": "text", "fontSize": 20, "color": "#1a1a1a", "baseline": "middle", "align": "center"}, "encoding": {"text": {"field": "t"}}},
   {"data": {"values": [{"x": -0.065, "y": 0.998, "t": "8,031"}]}, "mark": {"type": "text", "fontSize": 12, "color": "#333333", "baseline": "middle", "align": "right"}, "encoding": {"text": {"field": "t"}}},
   {"data": {"values": [{"x": 0.12, "y": 0.998, "t": "1"}]}, "mark": {"type": "text", "fontSize": 12, "color": "#333333", "baseline": "middle", "align": "center"}, "encoding": {"text": {"field": "t"}}}
  ]},
 {"width": 590, "height": 187.6,
  "title": {"text": "20-25 nt viral siRNAs - redundant reads", "dx": 24, "offset": 4},
  "layer": [
   {"data": {"name": "cM"}, "mark": {"type": "rule", "color": "#c0504d", "strokeWidth": 1.3},
    "encoding": {"x": {"field": "p", "type": "quantitative", "scale": {"domain": [1, 6303], "nice": false, "zero": false}, "axis": null},
     "y": {"field": "v", "type": "quantitative", "scale": {"domain": [-10000, 10000], "nice": false},
      "axis": {"values": [-10000, -5000, 0, 5000, 10000], "grid": true, "gridWidth": 1.5, "domainWidth": 1.5, "tickSize": 5, "labelFontSize": 13, "labelPadding": 2, "title": null,
       "labelExpr": "(datum.value < 0 ? '-' : '') + format(abs(datum.value), ',')"}},
     "y2": {"datum": 0}}},
   {"data": {"name": "cP"}, "mark": {"type": "rule", "color": "#4a7ebb", "strokeWidth": 1.3},
    "encoding": {"x": {"field": "p", "type": "quantitative"}, "y": {"field": "v", "type": "quantitative"}, "y2": {"datum": 0}}},
   {"data": {"values": [{"p": 1, "p2": 6303}]}, "mark": {"type": "rule", "color": "#4a7ebb", "strokeWidth": 1.5, "yOffset": -1},
    "encoding": {"x": {"field": "p", "type": "quantitative"}, "x2": {"field": "p2"}, "y": {"datum": 0, "type": "quantitative"}}},
   {"data": {"values": [{"p": 1, "p2": 6303}]}, "mark": {"type": "rule", "color": "#c0504d", "strokeWidth": 2, "yOffset": 0.5},
    "encoding": {"x": {"field": "p", "type": "quantitative"}, "x2": {"field": "p2"}, "y": {"datum": 0, "type": "quantitative"}}}
  ]},
 {"width": 1, "height": 68, "data": {"values": []}, "mark": "point"},
 {"width": 595, "height": 24.4,
  "title": {"text": "20-25 nt viral siRNAs - non-redundant reads", "dx": 24, "offset": -5},
  "layer": [
   {"data": {"values": [{"s": 1, "e": 6303, "lo": 0, "hi": 1, "strand": "+"}, {"s": 1, "e": 6303, "lo": -1, "hi": 0, "strand": "-"}]},
    "mark": {"type": "rect"},
    "encoding": {
     "x": {"field": "s", "type": "quantitative", "scale": {"domain": [1, 6303], "nice": false, "zero": false},
      "axis": {"values": [1, 6303], "labelExpr": "format(datum.value, ',')", "labelFlush": false, "domain": false, "grid": false, "tickSize": 4, "labelPadding": 10, "labelFontSize": 12, "title": null}},
     "x2": {"field": "e"},
     "y": {"field": "lo", "type": "quantitative", "scale": {"domain": [-1, 1], "nice": false},
      "axis": {"values": [-1, 0, 1], "grid": false, "tickSize": 4, "labelPadding": 3, "labelFontSize": 12, "labelOverlap": false, "labelBound": false, "domainWidth": 1.5, "title": null, "labelExpr": "(datum.value < 0 ? '-' : '') + format(abs(datum.value), ',')"}},
     "y2": {"field": "hi"},
     "color": {"field": "strand", "type": "nominal", "scale": {"domain": ["+", "-"], "range": ["#4f81bd", "#c0504d"]}, "legend": null}}},
   {"data": {"values": [{"s": 45}, {"s": 98}, {"s": 5713}]}, "mark": {"type": "rule", "color": "white", "strokeWidth": 1.5},
    "encoding": {"x": {"field": "s", "type": "quantitative"}, "y": {"datum": -1, "type": "quantitative", "axis": {"values": [-1, 0, 1], "labelOverlap": false}}, "y2": {"datum": 1}}}
  ]},
 {"width": 595, "height": 146.3,
  "encoding": {"x": {"field": "p", "type": "quantitative", "scale": {"domain": [1, 6303], "nice": false, "zero": false}, "axis": null},
   "y": {"field": "y", "type": "quantitative", "scale": {"domain": [0, 100], "nice": false, "zero": false}, "axis": null}},
  "layer": [
   {"data": {"values": [{"p": 1, "p2": 6290, "y": 29.8}]}, "mark": {"type": "rule", "color": "#111111", "strokeWidth": 3}, "encoding": {"x2": {"field": "p2"}}},
   {"data": {"values": [{"p": 1, "p2": 6240, "y": 36.6}]}, "mark": {"type": "rule", "color": "#12964a", "strokeWidth": 2.5}, "encoding": {"x2": {"field": "p2"}}},
   {"data": {"values": [{"p": 6245, "y": 36.6}]}, "mark": {"type": "point", "shape": "triangle-right", "size": 90, "filled": true, "color": "#12964a", "opacity": 1}},
   {"data": {"values": [{"p": 40, "y": 43.7, "y2": 36.6}, {"p": 93, "y": 43.7, "y2": 36.6}, {"p": 5713, "y": 43.7, "y2": 36.6}]}, "mark": {"type": "rule", "color": "#111111", "strokeWidth": 1.2}, "encoding": {"y2": {"field": "y2"}}},
   {"data": {"values": [{"p": 40, "y": 47.9, "m": "G12A"}, {"p": 5713, "y": 47.9, "m": "G5612T"}]}, "mark": {"type": "text", "fontSize": 12, "color": "#222222", "angle": -68, "align": "left", "baseline": "middle", "xOffset": -4}, "encoding": {"text": {"field": "m"}}},
   {"data": {"values": [{"p": 93, "y": 47.9, "m": "A231T"}]}, "mark": {"type": "text", "fontSize": 12, "color": "#222222", "angle": -68, "align": "left", "baseline": "middle", "xOffset": 6}, "encoding": {"text": {"field": "m"}}},
   {"data": {"values": [{"p": 3050, "y": 8.2, "t": "ORMV RNA (6,303 nt)"}]}, "mark": {"type": "text", "fontSize": 20, "color": "#1a1a1a", "align": "center", "baseline": "middle"}, "encoding": {"text": {"field": "t"}}}
  ]}
]},
{"spacing": 0, "bounds": "flush", "vconcat": [
 {"width": 504, "height": 174.3,
  "title": {"text": "20-25 nt viral siRNAs - redundant reads", "dx": 51, "offset": 0},
  "layer": [
   {"data": {"name": "bM"}, "mark": {"type": "rule", "color": "#c0504d", "strokeWidth": 1.3},
    "encoding": {"x": {"field": "p", "type": "quantitative", "scale": {"domain": [1, 2583], "nice": false, "zero": false}, "axis": null},
     "y": {"field": "v", "type": "quantitative", "scale": {"domain": [-4000, 4000], "nice": false},
      "axis": {"values": [-4000, -2000, 0, 2000, 4000], "grid": true, "gridWidth": 1.5, "domainWidth": 1.5, "tickSize": 5, "labelFontSize": 13, "labelPadding": 2, "title": null,
       "labelExpr": "(datum.value < 0 ? '-' : '') + format(abs(datum.value), ',')"}},
     "y2": {"datum": 0}}},
   {"data": {"name": "bP"}, "mark": {"type": "rule", "color": "#4a7ebb", "strokeWidth": 1.3},
    "encoding": {"x": {"field": "p", "type": "quantitative"}, "y": {"field": "v", "type": "quantitative"}, "y2": {"datum": 0}}},
   {"data": {"values": [{"p": 1, "p2": 2583}]}, "mark": {"type": "rule", "color": "#c0504d", "strokeWidth": 1.5, "yOffset": 1},
    "encoding": {"x": {"field": "p", "type": "quantitative"}, "x2": {"field": "p2"}, "y": {"datum": 0, "type": "quantitative"}}},
   {"data": {"values": [{"p": 1, "p2": 2583}]}, "mark": {"type": "rule", "color": "#4a7ebb", "strokeWidth": 1.5, "yOffset": -0.5},
    "encoding": {"x": {"field": "p", "type": "quantitative"}, "x2": {"field": "p2"}, "y": {"datum": 0, "type": "quantitative"}}}
  ]},
 {"width": 1, "height": 61, "data": {"values": []}, "mark": "point"},
 {"width": 507, "height": 25,
  "title": {"text": "20-25 nt viral siRNAs - non-redundant reads", "dx": 30, "offset": -4},
  "data": {"values": [{"s": 1, "e": 2583, "lo": 0, "hi": 1, "strand": "+"}, {"s": 1, "e": 2583, "lo": -1, "hi": 0, "strand": "-"}]},
  "mark": {"type": "rect"},
  "encoding": {
   "x": {"field": "s", "type": "quantitative", "scale": {"domain": [1, 2583], "nice": false, "zero": false},
    "axis": {"values": [1, 2583], "labelExpr": "format(datum.value, ',')", "labelFlush": false, "domain": false, "grid": false, "tickSize": 4, "labelPadding": 7, "labelFontSize": 12, "title": null}},
   "x2": {"field": "e"},
   "y": {"field": "lo", "type": "quantitative", "scale": {"domain": [-1, 1], "nice": false},
    "axis": {"values": [-1, 0, 1], "grid": false, "tickSize": 4, "labelPadding": 3, "labelFontSize": 12, "labelOverlap": false, "domainWidth": 1.5, "title": null, "labelExpr": "(datum.value < 0 ? '-' : '') + format(abs(datum.value), ',')"}},
   "y2": {"field": "hi"},
   "color": {"field": "strand", "type": "nominal", "scale": {"domain": ["+", "-"], "range": ["#4f81bd", "#c0504d"]}, "legend": null}}},
 {"width": 516.8, "height": 284.7,
  "encoding": {"x": {"field": "x", "type": "quantitative", "scale": {"domain": [-2.618, 2.618], "nice": false, "zero": false}, "axis": null},
   "y": {"field": "y", "type": "quantitative", "scale": {"domain": [-1.6839, 1.2006], "nice": false, "zero": false}, "axis": null}},
  "layer": [
   {"data": {"values": [{"x": 0, "y": 0}]}, "mark": {"type": "point", "shape": "M -1 0 A 1 0.94 0 1 1 1 0 A 1 0.94 0 1 1 -1 0 Z", "size": 38967, "filled": false, "stroke": "#111111", "strokeWidth": 3, "opacity": 1}},
   {"data": {"values": [{"x": 0, "y": 0}]}, "mark": {"type": "point", "shape": "M 0.4217 -0.7812 A 0.945 0.873 0 1 1 0.3232 -0.8204", "size": 38967, "filled": false, "stroke": "#12964a", "strokeWidth": 2.5, "opacity": 1}},
   {"data": {"values": [{"x": 0, "y": 0}]}, "mark": {"type": "point", "shape": "M 0.3919 -0.7944 L 0.2757 -0.7890 L 0.3145 -0.8812 Z M 0.5687 0.6972 L 0.6263 0.5962 L 0.6835 0.6782 Z", "size": 38967, "filled": true, "color": "#12964a", "opacity": 1}},
   {"data": {"values": [{"x": 0, "y": 0}]}, "mark": {"type": "point", "shape": "M -0.05 -1.005 L 0 -0.972 L 0.05 -1.005 M 0 -0.972 L 0 -0.94", "size": 38967, "filled": false, "stroke": "#9a9a9a", "strokeWidth": 1.5, "opacity": 1}},
   {"data": {"values": [{"x": 0.057, "y": 0.046, "t": "CaLCuV DNA-A"}, {"x": 0.037, "y": -0.309, "t": "2,583 nt"}]}, "mark": {"type": "text", "fontSize": 20, "color": "#1a1a1a", "baseline": "middle", "align": "center"}, "encoding": {"text": {"field": "t"}}},
   {"data": {"values": [{"x": -0.085, "y": 1.025, "t": "2,583"}]}, "mark": {"type": "text", "fontSize": 12, "color": "#333333", "baseline": "middle", "align": "right"}, "encoding": {"text": {"field": "t"}}},
   {"data": {"values": [{"x": 0.141, "y": 1.025, "t": "1"}]}, "mark": {"type": "text", "fontSize": 12, "color": "#333333", "baseline": "middle", "align": "center"}, "encoding": {"text": {"field": "t"}}}
  ]},
 {"width": 499, "height": 172,
  "title": {"text": "20-25 nt viral siRNAs - redundant reads", "dx": 51, "offset": -2},
  "layer": [
   {"data": {"name": "dM"}, "mark": {"type": "rule", "color": "#c0504d", "strokeWidth": 1.3},
    "encoding": {"x": {"field": "p", "type": "quantitative", "scale": {"domain": [1, 2512], "nice": false, "zero": false}, "axis": null},
     "y": {"field": "v", "type": "quantitative", "scale": {"domain": [-10000, 10000], "nice": false},
      "axis": {"values": [-10000, -5000, 0, 5000, 10000], "grid": true, "gridWidth": 1.5, "domainWidth": 1.5, "tickSize": 5, "labelFontSize": 13, "labelPadding": 2, "title": null,
       "labelExpr": "(datum.value < 0 ? '-' : '') + format(abs(datum.value), ',')"}},
     "y2": {"datum": 0}}},
   {"data": {"name": "dP"}, "mark": {"type": "rule", "color": "#4a7ebb", "strokeWidth": 1.3},
    "encoding": {"x": {"field": "p", "type": "quantitative"}, "y": {"field": "v", "type": "quantitative"}, "y2": {"datum": 0}}},
   {"data": {"values": [{"p": 1, "p2": 2512}]}, "mark": {"type": "rule", "color": "#c0504d", "strokeWidth": 1.5, "yOffset": 1},
    "encoding": {"x": {"field": "p", "type": "quantitative"}, "x2": {"field": "p2"}, "y": {"datum": 0, "type": "quantitative"}}},
   {"data": {"values": [{"p": 1, "p2": 2512}]}, "mark": {"type": "rule", "color": "#4a7ebb", "strokeWidth": 1.5, "yOffset": -0.5},
    "encoding": {"x": {"field": "p", "type": "quantitative"}, "x2": {"field": "p2"}, "y": {"datum": 0, "type": "quantitative"}}}
  ]},
 {"width": 1, "height": 55.6, "data": {"values": []}, "mark": "point"},
 {"width": 502, "height": 24.5,
  "title": {"text": "20-25 nt viral siRNAs - non-redundant reads", "dx": 30, "offset": -5},
  "data": {"values": [{"s": 1, "e": 2512, "lo": 0, "hi": 1, "strand": "+"}, {"s": 1, "e": 2512, "lo": -1, "hi": 0, "strand": "-"}]},
  "mark": {"type": "rect"},
  "encoding": {
   "x": {"field": "s", "type": "quantitative", "scale": {"domain": [1, 2512], "nice": false, "zero": false},
    "axis": {"values": [1, 2512], "labelExpr": "format(datum.value, ',')", "labelFlush": false, "domain": false, "grid": false, "tickSize": 4, "labelPadding": 7, "labelFontSize": 12, "title": null}},
   "x2": {"field": "e"},
   "y": {"field": "lo", "type": "quantitative", "scale": {"domain": [-1, 1], "nice": false},
    "axis": {"values": [-1, 0, 1], "grid": false, "tickSize": 4, "labelPadding": 3, "labelFontSize": 12, "labelOverlap": false, "domainWidth": 1.5, "title": null, "labelExpr": "(datum.value < 0 ? '-' : '') + format(abs(datum.value), ',')"}},
   "y2": {"field": "hi"},
   "color": {"field": "strand", "type": "nominal", "scale": {"domain": ["+", "-"], "range": ["#4f81bd", "#c0504d"]}, "legend": null}}},
 {"width": 516.8, "height": 225.2,
  "encoding": {"x": {"field": "x", "type": "quantitative", "scale": {"domain": [-2.6154, 2.6154], "nice": false, "zero": false}, "axis": null},
   "y": {"field": "y", "type": "quantitative", "scale": {"domain": [-0.9949, 1.2844], "nice": false, "zero": false}, "axis": null}},
  "layer": [
   {"data": {"values": [{"x": 0, "y": 0}]}, "mark": {"type": "point", "shape": "M -1 0 A 1 0.931 0 1 1 1 0 A 1 0.931 0 1 1 -1 0 Z", "size": 39046, "filled": false, "stroke": "#111111", "strokeWidth": 3, "opacity": 1}},
   {"data": {"values": [{"x": 0, "y": 0}]}, "mark": {"type": "point", "shape": "M 0.6934 -0.5886 A 0.948 0.863 0 1 1 0.6220 -0.6513 L 0.6188 -0.5349 A 0.853 0.777 0 0 1 0.7154 -0.4231", "size": 39046, "filled": false, "stroke": "#12964a", "strokeWidth": 2.5, "opacity": 1}},
   {"data": {"values": [{"x": 0, "y": 0}]}, "mark": {"type": "point", "shape": "M 0.7531 -0.3648 L 0.6570 -0.4303 L 0.7434 -0.4807 Z", "size": 39046, "filled": true, "color": "#12964a", "opacity": 1}},
   {"data": {"values": [{"x": 0, "y": 0}]}, "mark": {"type": "point", "shape": "M -0.05 -1.005 L 0 -0.968 L 0.05 -1.005 M 0 -0.968 L 0 -0.931", "size": 39046, "filled": false, "stroke": "#9a9a9a", "strokeWidth": 1.5, "opacity": 1}},
   {"data": {"values": [{"x": 0.056, "y": 0.115, "t": "CaLCuV DNA-B"}, {"x": 0.036, "y": -0.239, "t": "2,512 nt"}]}, "mark": {"type": "text", "fontSize": 20, "color": "#1a1a1a", "baseline": "middle", "align": "center"}, "encoding": {"text": {"field": "t"}}},
   {"data": {"values": [{"x": -0.086, "y": 1.026, "t": "2,512"}]}, "mark": {"type": "text", "fontSize": 12, "color": "#333333", "baseline": "middle", "align": "right"}, "encoding": {"text": {"field": "t"}}},
   {"data": {"values": [{"x": 0.138, "y": 1.026, "t": "1"}]}, "mark": {"type": "text", "fontSize": 12, "color": "#333333", "baseline": "middle", "align": "center"}, "encoding": {"text": {"field": "t"}}}
  ]}
]}
]
}
